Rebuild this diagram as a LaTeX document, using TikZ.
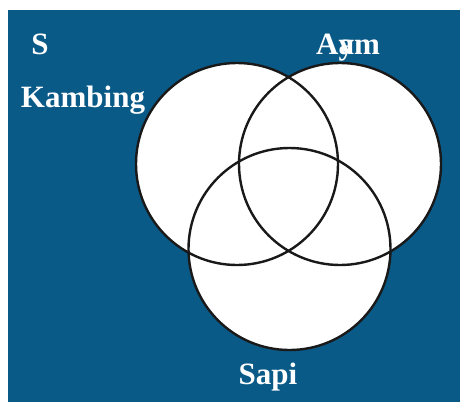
\documentclass[tikz,border=0pt]{standalone}
\usepackage{fontspec}
\setmainfont{Liberation Serif}
\usetikzlibrary{positioning}
\definecolor{SetBlue}{RGB}{10, 90, 136}
\definecolor{RingLine}{RGB}{25, 25, 25}

\tikzset{
  setlabel/.style={text=white, font=\fontsize{31}{34}\selectfont\bfseries, anchor=base, inner sep=0pt},
  ringfill/.style={fill=white},
  ring/.style={draw=RingLine, line width=2.4pt}
}

\begin{document}
\begin{tikzpicture}[x=1pt, y=-1pt]
  \useasboundingbox (0,0) rectangle (460,402);
  \fill[SetBlue] (8,10) rectangle (460,402);

  % centres of the three sets
  \coordinate (kambing) at (237,164);
  \coordinate (ayam) at (340,164);
  \coordinate (sapi) at (289.5,249);

  \foreach \c in {kambing,ayam,sapi}
    \fill[ringfill] (\c) circle[radius=101pt];
  \foreach \c in {kambing,ayam,sapi}
    \draw[ring] (\c) circle[radius=101pt];

  % labels
  \node[setlabel] (lblS) at (40,54) {S};
  \node[setlabel] (lblKambing) at (83,107) {Kambing};
  \node[setlabel] (lblAyam) at (348,54) {A\rlap{y}am};
  \node[setlabel] (lblSapi) at (268,384) {Sapi};
\end{tikzpicture}
\end{document}
